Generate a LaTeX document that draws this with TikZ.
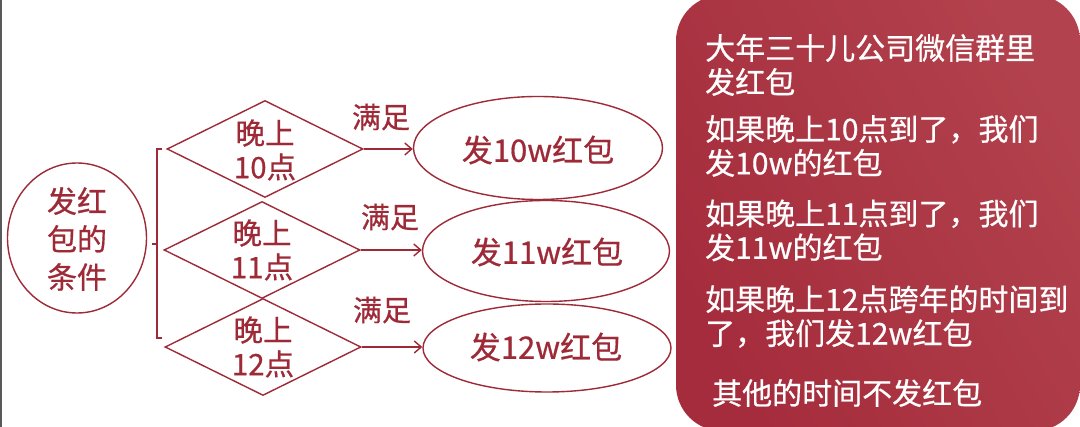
\documentclass[tikz,border=0pt]{standalone}
\usepackage{fontspec}
\setmainfont{Noto Sans CJK SC}[FakeBold=0.6]
\usetikzlibrary{shapes.geometric,arrows.meta}
\definecolor{dred}{RGB}{158,42,55}
\definecolor{boxA}{RGB}{165,44,60}
\definecolor{boxB}{RGB}{178,66,77}
\tikzset{
  ln/.style={draw=dred, line width=1.4pt},
  txt/.style={text=dred, font=\fontsize{29}{36}\selectfont, align=center, inner sep=0pt},
  wtxt/.style={text=white, font=\fontsize{30}{34}\selectfont, align=left, inner sep=0pt, anchor=west},
  dia/.style={diamond, ln, minimum width=196pt, minimum height=97pt, inner sep=0pt},
  ell/.style={ellipse, ln, inner sep=0pt},
  arr/.style={ln, -{Straight Barb[length=7pt,width=12pt,line width=1.4pt]}}
}
\begin{document}
\begin{tikzpicture}[x=1pt,y=-1pt]
\useasboundingbox (0,0) rectangle (1080,427);
\fill[white] (0,0) rectangle (1080,427);
% left screenshot edge
\coordinate (eT) at (0.8,0);
\coordinate (eB) at (0.8,427);
\draw[black!65, line width=1.6pt] (eT) -- (eB);

% start circle
\node[ell, minimum width=139pt, minimum height=150pt] (c) at (77,238) {};
\node[txt, font=\fontsize{30}{38}\selectfont] (ct) at (77,239) {发红\\包的\\条件};

% bracket
\coordinate (bT) at (157,149);
\coordinate (bB) at (157,338);
\coordinate (bM) at (157,244);
\draw[ln] ([xshift=5pt]bT) -- (bT) -- (bB) -- ([xshift=5pt]bB);
\draw[ln] (bM) -- ([xshift=-5pt]bM);

% diamonds
\node[dia] (d1) at (265,149) {};
\node[dia] (d2) at (262,250) {};
\node[dia] (d3) at (263,347) {};
\node[txt, font=\fontsize{29.5}{34}\selectfont] (d1t) at (265,150) {晚上\\10点};
\node[txt, font=\fontsize{29.5}{34}\selectfont] (d2t) at (262,250) {晚上\\11点};
\node[txt, font=\fontsize{29.5}{34}\selectfont] (d3t) at (263,347) {晚上\\12点};

% ellipses
\node[ell, minimum width=249pt, minimum height=103pt] (e1) at (538,148) {};
\node[ell, minimum width=247pt, minimum height=101pt] (e2) at (546,251) {};
\node[ell, minimum width=248pt, minimum height=88pt] (e3) at (547,348) {};
\node[txt, font=\fontsize{31}{36}\selectfont] (e1t) at (538,150) {发10w红包};
\node[txt, font=\fontsize{31}{36}\selectfont] (e2t) at (547,252) {发11w红包};
\node[txt, font=\fontsize{31}{36}\selectfont] (e3t) at (546,347) {发12w红包};

% arrows
\draw[arr] (d1.east) -- (d1.east -| e1.west);
\draw[arr] (d2.east) -- (d2.east -| e2.west);
\draw[arr] (d3.east) -- (d3.east -| e3.west);
\node[txt] (m1) at (381,117) {满足};
\node[txt] (m2) at (390,217) {满足};
\node[txt] (m3) at (382,310) {满足};

% right box
\node[rounded corners=46pt, minimum width=404pt, minimum height=436pt, inner sep=0pt,
      left color=boxA, right color=boxB, shading angle=120] (box) at (878,213) {};
\node[wtxt] (p1) at (705,65) {大年三十儿公司微信群里\\发红包};
\node[wtxt] (p2) at (705,146) {如果晚上10点到了，我们\\发10w的红包};
\node[wtxt] (p3) at (705,230.5) {如果晚上11点到了，我们\\发11w的红包};
\node[wtxt] (p4) at (705,316.5) {如果晚上12点跨年的时间到\\了，我们发12w红包};
\node[wtxt] (p5) at (712,393) {其他的时间不发红包};
\end{tikzpicture}
\end{document}
